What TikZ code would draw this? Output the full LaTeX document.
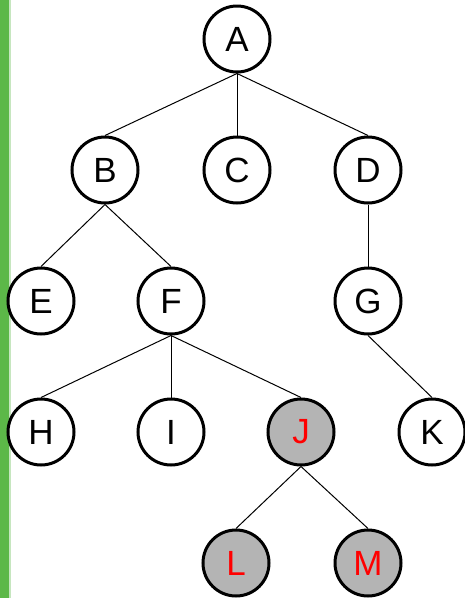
\documentclass[tikz,border=0pt]{standalone}
\usepackage{fontspec}
\setmainfont{Liberation Sans}
\definecolor{barGreen}{RGB}{92,184,72}
\definecolor{markGrey}{RGB}{180,180,180}

\begin{document}
\begin{tikzpicture}[x=1pt,y=-1pt,
  vertex/.style={circle,draw=black,fill=white,line width=3pt,minimum size=66pt,inner sep=0pt,font=\fontsize{35}{35}\selectfont},
  marked/.style={vertex,fill=markGrey,text=red},
  link/.style={draw=black,line width=1pt}]
\useasboundingbox (0,0) rectangle (464,598);
\path[fill=barGreen,draw=none] (0,0) rectangle (9,598);
\path[fill=barGreen!35,draw=none] (9,0) rectangle (11,598);
\node[vertex] (node-A) at (237,39) {A};
\node[vertex] (node-B) at (105,170) {B};
\node[vertex] (node-C) at (237,170) {C};
\node[vertex] (node-D) at (368,170) {D};
\node[vertex] (node-E) at (41,301) {E};
\node[vertex] (node-F) at (171,301) {F};
\node[vertex] (node-G) at (368,301) {G};
\node[vertex] (node-H) at (41,432) {H};
\node[vertex] (node-I) at (171,432) {I};
\node[marked] (node-J) at (301,432) {J};
\node[vertex] (node-K) at (432,432) {K};
\node[marked] (node-L) at (236,563) {L};
\node[marked] (node-M) at (368,563) {M};
\path[link] (node-A.south) -- (node-B.north);
\path[link] (node-A.south) -- (node-C.north);
\path[link] (node-A.south) -- (node-D.north);
\path[link] (node-B.south) -- (node-E.north);
\path[link] (node-B.south) -- (node-F.north);
\path[link] (node-D.south) -- (node-G.north);
\path[link] (node-F.south) -- (node-H.north);
\path[link] (node-F.south) -- (node-I.north);
\path[link] (node-F.south) -- (node-J.north);
\path[link] (node-G.south) -- (node-K.north);
\path[link] (node-J.south) -- (node-L.north);
\path[link] (node-J.south) -- (node-M.north);
\end{tikzpicture}
\end{document}
